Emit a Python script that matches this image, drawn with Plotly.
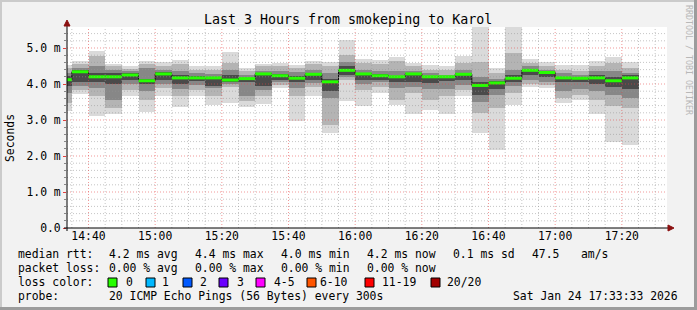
import pandas as pd
import plotly.graph_objects as go

# ---------------- data ----------------
bar_end = pd.date_range("2026-01-24 14:35", periods=35, freq="5min")

median = [4.12, 4.34, 4.20, 4.20, 4.25, 4.09, 4.28, 4.17, 4.17, 4.17,
          4.11, 4.15, 4.28, 4.23, 4.16, 4.27, 4.06, 4.38, 4.28, 4.23,
          4.20, 4.28, 4.20, 4.20, 4.27, 3.96, 4.03, 4.16, 4.38, 4.32,
          4.17, 4.16, 4.17, 4.09, 4.17]
ping_min = [3.24, 3.73, 3.12, 3.17, 3.68, 3.23, 3.67, 3.36, 3.66, 3.42,
            3.47, 3.36, 3.45, 3.89, 2.98, 3.67, 2.63, 3.54, 3.38, 3.75,
            3.42, 3.17, 3.29, 3.17, 3.67, 2.63, 2.16, 3.42, 3.93, 3.89,
            3.47, 3.55, 3.17, 2.38, 2.30]
ping_max = [4.54, 4.63, 4.93, 4.56, 4.49, 4.63, 4.61, 4.67, 4.49, 4.49,
            4.88, 4.44, 4.56, 4.58, 4.54, 4.65, 4.61, 5.23, 4.70, 4.67,
            4.75, 4.58, 4.52, 4.49, 4.77, 5.60, 4.44, 5.60, 4.69, 4.60,
            4.54, 4.54, 4.65, 4.74, 4.60]
p10 = [3.47, 3.84, 3.66, 3.33, 3.84, 3.56, 3.90, 3.66, 3.84, 3.66,
       3.93, 3.52, 3.66, 3.98, 3.66, 3.93, 2.85, 4.12, 3.84, 3.93,
       3.56, 3.75, 3.56, 3.66, 3.84, 3.20, 3.33, 3.75, 4.00, 3.98,
       3.60, 3.70, 3.56, 3.38, 3.33]
p90 = [4.45, 4.56, 4.77, 4.49, 4.42, 4.56, 4.50, 4.55, 4.40, 4.40,
       4.58, 4.35, 4.49, 4.49, 4.45, 4.55, 4.49, 4.80, 4.58, 4.55,
       4.64, 4.49, 4.40, 4.40, 4.58, 4.60, 4.30, 4.85, 4.58, 4.49,
       4.40, 4.35, 4.49, 4.58, 4.45]
p25 = [3.75, 3.95, 3.90, 3.55, 4.00, 3.80, 4.00, 3.85, 3.98, 3.88,
       4.00, 3.66, 3.84, 4.05, 3.90, 4.03, 3.60, 4.20, 4.00, 4.05,
       3.90, 3.93, 3.85, 3.85, 3.98, 3.50, 3.70, 3.95, 4.10, 4.05,
       3.80, 3.85, 3.80, 3.70, 3.60]
p75 = [4.30, 4.45, 4.50, 4.40, 4.35, 4.45, 4.40, 4.35, 4.30, 4.28,
       4.40, 4.25, 4.35, 4.35, 4.33, 4.40, 4.30, 4.60, 4.40, 4.35,
       4.35, 4.35, 4.30, 4.25, 4.40, 4.20, 4.15, 4.40, 4.49, 4.40,
       4.30, 4.25, 4.35, 4.35, 4.30]
p40 = [3.95, 4.05, 4.05, 4.00, 4.10, 4.00, 4.10, 4.00, 4.08, 3.95,
       4.05, 4.05, 3.95, 4.12, 4.05, 4.10, 3.80, 4.25, 4.10, 4.12,
       4.05, 4.05, 4.03, 4.08, 4.10, 3.70, 3.85, 4.05, 4.25, 4.20,
       4.05, 4.05, 4.00, 3.93, 3.85]
p60 = [4.21, 4.40, 4.30, 4.30, 4.30, 4.15, 4.32, 4.25, 4.22, 4.18,
       4.25, 4.18, 4.30, 4.28, 4.22, 4.30, 4.15, 4.50, 4.30, 4.28,
       4.20, 4.30, 4.22, 4.22, 4.30, 4.05, 4.08, 4.25, 4.42, 4.35,
       4.20, 4.20, 4.25, 4.20, 4.25]

y_tick_vals = [0, 1, 2, 3, 4, 5]
y_tick_text = ["0.0", "1.0 m", "2.0 m", "3.0 m", "4.0 m", "5.0 m"]

loss_labels = ["0", "1", "2", "3", "4-5", "6-10", "11-19", "20/20"]
loss_colors = ["#26ff00", "#00b8ff", "#0059ff", "#6a00ff", "#ff00ff",
               "#ff5500", "#ff0000", "#a10000"]

title = "Last 3 Hours from smokeping to Karol"
t_first = "2026-01-24 14:33:33"
t_last = "2026-01-24 17:33:33"

# ---------------- geometry helpers ----------------
W, H = 697, 310
L, R, T, B = 67, 30, 27, 82
PW, PH = W - L - R, H - T - B


def px(x):
    return (x - L) / PW


def py(y):
    return (H - B - y) / PH


FONT = "DejaVu Sans Mono"
step = pd.Timedelta(minutes=5)
bar_mid = bar_end - step / 2
bar_start = bar_end - step

fig = go.Figure()

bands = [(ping_min, ping_max, "#dadada"),
         (p10, p90, "#b4b4b4"),
         (p25, p75, "#878787"),
         (p40, p60, "#4a4a4a")]
for lo, hi, col in bands:
    fig.add_trace(go.Bar(
        x=bar_mid, base=lo, y=[h - l for l, h in zip(lo, hi)],
        width=300000, marker=dict(color=col, line=dict(width=0)),
        hoverinfo="skip", showlegend=False))

# median step line (black) + green loss-coloured segments
fig.add_trace(go.Scatter(
    x=list(bar_start) + [bar_end[-1]], y=median + [median[-1]],
    mode="lines", line=dict(color="#111111", width=1, shape="hv"),
    showlegend=False, hoverinfo="skip"))
gx, gy = [], []
for s, e, m in zip(bar_start, bar_end, median):
    gx += [s, e, None]
    gy += [m, m, None]
fig.add_trace(go.Scatter(
    x=gx, y=gy, mode="lines", line=dict(color="#26ff00", width=3),
    showlegend=False, hoverinfo="skip"))

shapes = []
# grid drawn above smoke like rrdtool
yv = 0.2
while yv < 5.6:
    major = abs(yv - round(yv)) < 1e-6
    shapes.append(dict(type="line", xref="paper", yref="y", x0=0, x1=1.0,
                       y0=yv, y1=yv, layer="above",
                       line=dict(color="rgba(230,70,70,0.55)" if major else "rgba(150,150,150,0.55)",
                                 width=1, dash="1px,2px")))
    yv = round(yv + 0.2, 3)
for t in pd.date_range("2026-01-24 14:35", "2026-01-24 17:30", freq="5min"):
    major = t.minute % 20 == 0
    shapes.append(dict(type="line", xref="x", yref="paper", x0=t, x1=t,
                       y0=0, y1=1, layer="above",
                       line=dict(color="rgba(230,70,70,0.55)" if major else "rgba(150,150,150,0.55)",
                                 width=1, dash="1px,2px")))

# axis lines with arrows
shapes.append(dict(type="line", xref="paper", yref="paper", x0=px(64), x1=px(669),
                   y0=py(228), y1=py(228), line=dict(color="#000000", width=1), layer="above"))
shapes.append(dict(type="line", xref="paper", yref="paper", x0=px(67), x1=px(67),
                   y0=py(231), y1=py(24), line=dict(color="#000000", width=1), layer="above"))
shapes.append(dict(type="path", xref="paper", yref="paper", layer="above",
                   path=f"M {px(64)},{py(26)} L {px(67)},{py(20)} L {px(70)},{py(26)} Z",
                   fillcolor="#8b1010", line=dict(color="#8b1010", width=1)))
shapes.append(dict(type="path", xref="paper", yref="paper", layer="above",
                   path=f"M {px(668)},{py(225)} L {px(674)},{py(228)} L {px(668)},{py(231)} Z",
                   fillcolor="#8b1010", line=dict(color="#8b1010", width=1)))

# 3D frame border
shapes.append(dict(type="rect", xref="paper", yref="paper", x0=px(0), x1=px(W), y0=py(0), y1=py(2),
                   fillcolor="#cbcbcb", line=dict(width=0)))
shapes.append(dict(type="rect", xref="paper", yref="paper", x0=px(0), x1=px(2), y0=py(0), y1=py(H),
                   fillcolor="#cbcbcb", line=dict(width=0)))
shapes.append(dict(type="rect", xref="paper", yref="paper", x0=px(0), x1=px(W), y0=py(H - 3), y1=py(H),
                   fillcolor="#9c9c9c", line=dict(width=0)))
shapes.append(dict(type="rect", xref="paper", yref="paper", x0=px(W - 3), x1=px(W), y0=py(0), y1=py(H),
                   fillcolor="#9c9c9c", line=dict(width=0)))

ann = []


def text(x, y, s, size=11.4, anchor="left", color="#000000", angle=0):
    ann.append(dict(x=px(x), y=py(y), xref="paper", yref="paper", text=s,
                    showarrow=False, xanchor=anchor, yanchor="middle",
                    textangle=angle, font=dict(family=FONT, size=size, color=color)))


text(348, 19.5, title, size=13.3, anchor="center")
text(10, 138, "Seconds", angle=-90, anchor="center")
text(689, 60, "RRDTOOL / TOBI OETIKER", size=8.3, anchor="center", color="#b8b8b8", angle=90)

row1 = [(16, "median rtt:"), (107, "4.2 ms avg"), (193, "4.4 ms max"), (279, "4.0 ms min"),
        (365, "4.2 ms now"), (451, "0.1 ms sd"), (530, "47.5"), (579, "am/s")]
row2 = [(16, "packet loss:"), (107, "0.00 % avg"), (193, "0.00 % max"),
        (279, "0.00 % min"), (365, "0.00 % now")]
for x, s in row1:
    text(x, 254.3, s)
for x, s in row2:
    text(x, 268.3, s)
text(16, 282.3, "loss color:")
box_x = [108, 146, 183, 219, 256, 307, 365, 431]
lab_x = [124, 160, 198, 235, 272, 318, 380, 445]
for bx, lx, lab, col in zip(box_x, lab_x, loss_labels, loss_colors):
    shapes.append(dict(type="rect", xref="paper", yref="paper", x0=px(bx), x1=px(bx + 9),
                       y0=py(278), y1=py(287), fillcolor=col,
                       line=dict(color="#000000", width=1)))
    text(lx, 282.3, lab)
text(16, 296.3, "probe:")
text(107, 296.3, "20 ICMP Echo Pings (56 Bytes) every 300s")
text(680, 296.3, "Sat Jan 24 17:33:33 2026", anchor="right")

fig.update_layout(
    width=W, height=H, margin=dict(l=L, r=R, t=T, b=B),
    paper_bgcolor="#f2f2f2", plot_bgcolor="#ffffff",
    barmode="overlay", bargap=0, showlegend=False,
    font=dict(family=FONT, size=11.4, color="#000000"),
    shapes=shapes, annotations=ann,
    xaxis=dict(type="date", range=[t_first, t_last], tickmode="linear",
               tick0="2026-01-24 14:40", dtick=1200000, tickformat="%H:%M",
               showgrid=False, zeroline=False, showline=False,
               ticks="", ticklabelstandoff=0,
               tickfont=dict(family=FONT, size=11.4)),
    yaxis=dict(range=[0, PH / 36.0], tickmode="array", tickvals=y_tick_vals,
               ticktext=y_tick_text, showgrid=False, zeroline=False, showline=False,
               ticks="outside", ticklen=3, tickcolor="#e04040",
               minor=dict(dtick=0.2, tick0=0, ticks="outside", ticklen=2, tickcolor="#888888"),
               tickfont=dict(family=FONT, size=11.4)),
)

fig.write_html("out.html")
